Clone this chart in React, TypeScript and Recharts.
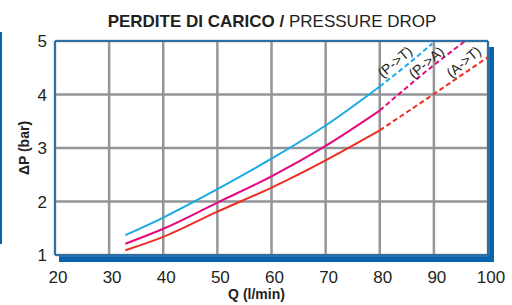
import React from 'react';
import {
  LineChart,
  Line,
  XAxis,
  YAxis,
  CartesianGrid,
  ReferenceLine,
  ReferenceDot,
  Label,
  Text,
} from 'recharts';

const xTicks = [20, 30, 40, 50, 60, 70, 80, 90, 100];
const yTicks = [1, 2, 3, 4, 5];

// Q (l/min) - tratto continuo
const qSolid = [33, 40, 50, 60, 70, 80];
const ptSolid = [1.37, 1.7, 2.23, 2.8, 3.42, 4.15];
const paSolid = [1.21, 1.49, 1.98, 2.47, 3.04, 3.7];
const atSolid = [1.09, 1.34, 1.81, 2.26, 2.77, 3.33];

// tratto tratteggiato
const qPtDash = [80, 85, 89.7];
const ptDash = [4.15, 4.55, 4.95];
const qPaDash = [80, 90, 95.8];
const paDash = [3.7, 4.55, 5.0];
const qAtDash = [80, 90, 100];
const atDash = [3.33, 4.01, 4.7];

// etichette curve
const labelNames = ['(P->T)', '(P->A)', '(A->T)'];
const labelQ = [82.8, 88.6, 95.5];
const labelP = [4.61, 4.6, 4.61];

const BLUE = '#1aa9e3';
const MAGENTA = '#e5097f';
const RED = '#ee2d24';
const FRAME = '#0a64ad';
const GRID = '#939598';
const TEXT = '#231f20';

const toPts = (q: number[], v: number[]) => q.map((x, i) => ({ q: x, v: v[i] }));

const series = [
  { key: 'pt', color: BLUE, solid: toPts(qSolid, ptSolid), dash: toPts(qPtDash, ptDash) },
  { key: 'pa', color: MAGENTA, solid: toPts(qSolid, paSolid), dash: toPts(qPaDash, paDash) },
  { key: 'at', color: RED, solid: toPts(qSolid, atSolid), dash: toPts(qAtDash, atDash) },
];

const RotatedLabel = (props: any) => {
  const { cx, cy, text } = props;
  return (
    <Text
      x={cx}
      y={cy}
      angle={-40}
      textAnchor="middle"
      verticalAnchor="middle"
      fontSize={14}
      fill={TEXT}
    >
      {text}
    </Text>
  );
};

export default function App() {
  return (
    <div
      style={{
        position: 'absolute',
        left: 0,
        top: 0,
        width: 512,
        height: 305,
        background: '#fff',
        fontFamily: '"Liberation Sans", Arial, sans-serif',
      }}
    >
      {/* linea decorativa a sinistra */}
      <div style={{ position: 'absolute', left: 0, top: 32, width: 2, height: 212, background: FRAME }} />
      {/* ombra del riquadro */}
      <div style={{ position: 'absolute', left: 59, top: 47, width: 435, height: 215, background: FRAME }} />
      <div
        style={{
          position: 'absolute',
          left: 272,
          top: 13,
          transform: 'translateX(-50%)',
          whiteSpace: 'nowrap',
          fontSize: 17,
          lineHeight: '17px',
          color: TEXT,
        }}
      >
        <b>PERDITE DI CARICO /</b> PRESSURE DROP
      </div>
      <div style={{ position: 'absolute', left: 0, top: 0 }}>
        <LineChart width={512} height={305} margin={{ top: 41, right: 24, bottom: 0, left: 0 }}>
          <CartesianGrid stroke={GRID} strokeWidth={2.5} fill="#fff" fillOpacity={1} />
          <XAxis
            type="number"
            dataKey="q"
            domain={[20, 100]}
            ticks={xTicks}
            allowDataOverflow
            height={50}
            tickSize={0}
            tickMargin={16}
            axisLine={{ stroke: FRAME, strokeWidth: 1.5 }}
            tickLine={false}
            tick={{ fill: TEXT, fontSize: 17, dx: 3 }}
          >
            <Label
              value="Q (l/min)"
              position="insideBottom"
              offset={6}
              dx={-15}
              style={{ fontSize: 14, fontWeight: 'bold', fill: TEXT }}
            />
          </XAxis>
          <YAxis
            type="number"
            domain={[1, 5]}
            ticks={yTicks}
            allowDataOverflow
            width={55}
            tickSize={0}
            tickMargin={8}
            axisLine={{ stroke: FRAME, strokeWidth: 1.5 }}
            tickLine={false}
            tick={{ fill: TEXT, fontSize: 17 }}
          >
            <Label
              value="ΔP (bar)"
              position="center"
              angle={-90}
              dx={-3}
              style={{ fontSize: 14, fontWeight: 'bold', fill: TEXT, textAnchor: 'middle' }}
            />
          </YAxis>
          <ReferenceLine y={5} stroke={FRAME} strokeWidth={1.5} />
          <ReferenceLine x={100} stroke={FRAME} strokeWidth={1.5} />
          {series.map((s) => (
            <Line
              key={s.key + '-solid'}
              data={s.solid}
              dataKey="v"
              type="monotone"
              stroke={s.color}
              strokeWidth={2}
              dot={false}
              activeDot={false}
              isAnimationActive={false}
            />
          ))}
          {series.map((s) => (
            <Line
              key={s.key + '-dash'}
              data={s.dash}
              dataKey="v"
              type="monotone"
              stroke={s.color}
              strokeWidth={2}
              strokeDasharray="5 3"
              dot={false}
              activeDot={false}
              isAnimationActive={false}
            />
          ))}
          {labelNames.map((name, i) => (
            <ReferenceDot
              key={name}
              x={labelQ[i]}
              y={labelP[i]}
              r={0}
              shape={(p: any) => <RotatedLabel {...p} text={name} />}
            />
          ))}
        </LineChart>
      </div>
    </div>
  );
}
